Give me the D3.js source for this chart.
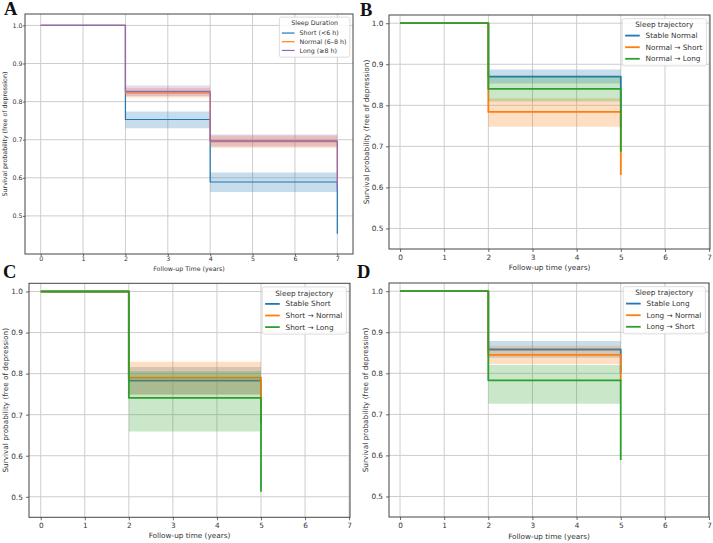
<!DOCTYPE html>
<html>
<head>
<meta charset="utf-8">
<script src="https://cdn.jsdelivr.net/npm/d3@7"></script>
<style>
  body { margin: 0; background: #fff; }
  svg { display: block; }
  text { font-family: 'DejaVu Sans', sans-serif; fill: #333; }
</style>
</head>
<body>
<svg id="chart" width="713" height="543"></svg>
<script>
// ticks shared by all four panels
var yearTicks = [0, 1, 2, 3, 4, 5, 6, 7];
var survTicks = [0.5, 0.6, 0.7, 0.8, 0.9, 1.0];

// A - baseline sleep duration (waves at 0, 2, 4, 7 years)
var timesA = [0, 2, 4, 7];
var namesA = ["Short (<6 h)", "Normal (6–8 h)", "Long (≥8 h)"];
var shortSurv   = [1, 0.753, 0.589, 0.453];
var shortLower  = [1, 0.730, 0.563, 0.453];
var shortUpper  = [1, 0.774, 0.614, 0.453];
var normalSurv  = [1, 0.823, 0.695, 0.590];
var normalLower = [1, 0.811, 0.679, 0.590];
var normalUpper = [1, 0.836, 0.711, 0.590];
var longSurv    = [1, 0.827, 0.697, 0.570];
var longLower   = [1, 0.815, 0.682, 0.570];
var longUpper   = [1, 0.842, 0.714, 0.570];

// B - trajectories from normal sleep (waves at 0, 2, 5 years)
var timesB = [0, 2, 5];
var namesB = ["Stable Normal", "Normal → Short", "Normal → Long"];
var stableNormalSurv  = [1, 0.870, 0.745];
var stableNormalLower = [1, 0.853, 0.745];
var stableNormalUpper = [1, 0.887, 0.745];
var normShortSurv     = [1, 0.784, 0.630];
var normShortLower    = [1, 0.748, 0.630];
var normShortUpper    = [1, 0.817, 0.630];
var normLongSurv      = [1, 0.840, 0.687];
var normLongLower     = [1, 0.809, 0.687];
var normLongUpper     = [1, 0.871, 0.687];

// C - trajectories from short sleep
var timesC = [0, 2, 5];
var namesC = ["Stable Short", "Short → Normal", "Short → Long"];
var stableShortSurv  = [1, 0.783, 0.680];
var stableShortLower = [1, 0.750, 0.680];
var stableShortUpper = [1, 0.816, 0.680];
var shortNormSurv    = [1, 0.790, 0.700];
var shortNormLower   = [1, 0.748, 0.700];
var shortNormUpper   = [1, 0.829, 0.700];
var shortLongSurv    = [1, 0.741, 0.512];
var shortLongLower   = [1, 0.659, 0.512];
var shortLongUpper   = [1, 0.806, 0.512];

// D - trajectories from long sleep
var timesD = [0, 2, 5];
var namesD = ["Stable Long", "Long → Normal", "Long → Short"];
var stableLongSurv  = [1, 0.858, 0.800];
var stableLongLower = [1, 0.838, 0.800];
var stableLongUpper = [1, 0.879, 0.800];
var longNormSurv    = [1, 0.845, 0.780];
var longNormLower   = [1, 0.822, 0.780];
var longNormUpper   = [1, 0.867, 0.780];
var longShortSurv   = [1, 0.783, 0.589];
var longShortLower  = [1, 0.726, 0.589];
var longShortUpper  = [1, 0.820, 0.589];

var BLUE = "#1f77b4", ORANGE = "#ff7f0e", GREEN = "#2ca02c", PURPLE = "#9467bd";

function mk(names, colors, s, lo, hi) {
  return names.map(function(n, i) { return { name: n, color: colors[i], surv: s[i], lo: lo[i], hi: hi[i] }; });
}

var panels = [
  { letter: "A", lx: 4, ly: 15,
    left: 25, top: 14, right: 353, bottom: 254,
    xDom: [-0.37, 7.37], yDom: [0.40, 1.03],
    fs: 6.3, lw: 1.2, tickLen: 2, xPad: 1, yPad: 0.5,
    xlabel: "Follow-up Time (years)", xlabelDy: 17, ylabelX: 7.2,
    legTitle: "Sleep Duration", leg: { title: 7.8, first: 18.1, gap: 8.7, bottom: 40 },
    times: timesA,
    series: mk(namesA, [BLUE, ORANGE, PURPLE],
      [shortSurv, normalSurv, longSurv], [shortLower, normalLower, longLower], [shortUpper, normalUpper, longUpper]) },
  { letter: "B", lx: 360, ly: 16,
    left: 389, top: 15, right: 710, bottom: 249,
    xDom: [-0.25, 7.02], yDom: [0.45, 1.02],
    fs: 7.3, lw: 1.8, tickLen: 3, xPad: 2.8, yPad: 2.7,
    xlabel: "Follow-up time (years)", xlabelDy: 21, ylabelX: 368.6,
    legTitle: "Sleep trajectory", leg: { title: 8.7, first: 19.5, gap: 11.6, bottom: 47.2 },
    times: timesB,
    series: mk(namesB, [BLUE, ORANGE, GREEN],
      [stableNormalSurv, normShortSurv, normLongSurv], [stableNormalLower, normShortLower, normLongLower], [stableNormalUpper, normShortUpper, normLongUpper]) },
  { letter: "C", lx: 3, ly: 278,
    left: 29, top: 283.3, right: 350, bottom: 517.3,
    xDom: [-0.266, 7.02], yDom: [0.45, 1.02],
    fs: 7.3, lw: 1.8, tickLen: 3, xPad: 2.8, yPad: 3.2,
    xlabel: "Follow-up time (years)", xlabelDy: 20.7, ylabelX: 8.3,
    legTitle: "Sleep trajectory", leg: { title: 8.7, first: 19.5, gap: 11.6, bottom: 47.2 },
    times: timesC,
    series: mk(namesC, [BLUE, ORANGE, GREEN],
      [stableShortSurv, shortNormSurv, shortLongSurv], [stableShortLower, shortNormLower, shortLongLower], [stableShortUpper, shortNormUpper, shortLongUpper]) },
  { letter: "D", lx: 357, ly: 278,
    left: 389, top: 283, right: 709, bottom: 517,
    xDom: [-0.25, 7.0], yDom: [0.45, 1.02],
    fs: 7.3, lw: 1.8, tickLen: 3, xPad: 2.8, yPad: 3,
    xlabel: "Follow-up time (years)", xlabelDy: 21.5, ylabelX: 368.3,
    legTitle: "Sleep trajectory", leg: { title: 8.7, first: 19.5, gap: 11.6, bottom: 47.2 },
    times: timesD,
    series: mk(namesD, [BLUE, ORANGE, GREEN],
      [stableLongSurv, longNormSurv, longShortSurv], [stableLongLower, longNormLower, longShortLower], [stableLongUpper, longNormUpper, longShortUpper]) }
];

var svg = d3.select("#chart");

panels.forEach(function(p, pi) {
  var x = d3.scaleLinear().domain(p.xDom).range([p.left, p.right]);
  var y = d3.scaleLinear().domain(p.yDom).range([p.bottom, p.top]);
  var g = svg.append("g");

  // grid
  g.append("g").selectAll("line").data(yearTicks).join("line")
    .attr("x1", d => x(d)).attr("x2", d => x(d))
    .attr("y1", p.top).attr("y2", p.bottom)
    .attr("stroke", "#cdcdcd").attr("stroke-width", 1);
  g.append("g").selectAll("line").data(survTicks).join("line")
    .attr("y1", d => y(d)).attr("y2", d => y(d))
    .attr("x1", p.left).attr("x2", p.right)
    .attr("stroke", "#cdcdcd").attr("stroke-width", 1);

  // survival curves + CI bands
  g.append("clipPath").attr("id", "clip" + pi).append("rect")
    .attr("x", p.left).attr("y", p.top).attr("width", p.right - p.left).attr("height", p.bottom - p.top);
  var plot = g.append("g").attr("clip-path", "url(#clip" + pi + ")");

  var area = d3.area().curve(d3.curveStepAfter)
    .x((d, i) => x(p.times[i])).y0(d => y(d.lo)).y1(d => y(d.hi));
  var line = d3.line().curve(d3.curveStepAfter)
    .x((d, i) => x(p.times[i])).y(d => y(d));

  p.series.forEach(function(s) {
    var pts = s.surv.map((v, i) => ({ lo: s.lo[i], hi: s.hi[i] }));
    plot.append("path").attr("d", area(pts))
      .attr("fill", s.color).attr("fill-opacity", 0.25).attr("stroke", "none");
    plot.append("path").attr("d", line(s.surv))
      .attr("fill", "none").attr("stroke", s.color)
      .attr("stroke-width", p.lw).attr("stroke-linejoin", "round");
  });

  // axes
  var xa = g.append("g").attr("transform", "translate(0," + p.bottom + ")")
    .call(d3.axisBottom(x).tickValues(yearTicks).tickFormat(d3.format("d"))
      .tickSize(p.tickLen).tickPadding(p.xPad));
  var ya = g.append("g").attr("transform", "translate(" + p.left + ",0)")
    .call(d3.axisLeft(y).tickValues(survTicks).tickFormat(d3.format(".1f"))
      .tickSize(p.tickLen).tickPadding(p.yPad));
  [xa, ya].forEach(function(a) {
    a.select(".domain").remove();
    a.selectAll("line").attr("stroke", "#444").attr("stroke-width", 0.8);
    a.selectAll("text").attr("font-size", p.fs).attr("fill", "#333")
      .style("font-family", "'DejaVu Sans', sans-serif");
  });

  // frame
  g.append("rect").attr("x", p.left).attr("y", p.top)
    .attr("width", p.right - p.left).attr("height", p.bottom - p.top)
    .attr("fill", "none").attr("stroke", "#444").attr("stroke-width", 1);

  // labels
  g.append("text").attr("x", (p.left + p.right) / 2).attr("y", p.bottom + p.xlabelDy)
    .attr("text-anchor", "middle").attr("font-size", p.fs).text(p.xlabel);
  g.append("text")
    .attr("transform", "translate(" + p.ylabelX + "," + (p.top + p.bottom) / 2 + ") rotate(-90)")
    .attr("text-anchor", "middle").attr("font-size", p.fs)
    .text("Survival probability (free of depression)");
  g.append("text").attr("x", p.lx).attr("y", p.ly)
    .attr("font-size", 18.5).attr("font-weight", "bold")
    .style("font-family", "'Liberation Serif', 'Times New Roman', serif")
    .style("fill", "#111").text(p.letter);

  // legend, anchored upper right
  var fs = p.fs, L = p.leg;
  var lg = g.append("g");
  var box = lg.append("rect").attr("rx", 2).attr("fill", "#fff").attr("fill-opacity", 0.85)
    .attr("stroke", "#d4d4d4").attr("stroke-width", 0.8);
  var title = lg.append("text").attr("y", L.title).attr("text-anchor", "middle")
    .attr("font-size", fs).text(p.legTitle);
  var maxW = 0;
  p.series.forEach(function(s, i) {
    var by = L.first + i * L.gap;
    lg.append("line").attr("x1", 0.4 * fs).attr("x2", 2.4 * fs)
      .attr("y1", by - 0.35 * fs).attr("y2", by - 0.35 * fs)
      .attr("stroke", s.color).attr("stroke-width", p.lw);
    var t = lg.append("text").attr("x", 3.2 * fs).attr("y", by).attr("font-size", fs).text(s.name);
    maxW = Math.max(maxW, t.node().getComputedTextLength());
  });
  var w = Math.max(3.2 * fs + maxW + 0.55 * fs, title.node().getComputedTextLength() + 1.2 * fs);
  box.attr("width", w).attr("height", L.bottom);
  title.attr("x", w / 2);
  lg.attr("transform", "translate(" + (p.right - 0.5 * fs - w) + "," + (p.top + 0.5 * fs) + ")");
});
</script>
</body>
</html>
